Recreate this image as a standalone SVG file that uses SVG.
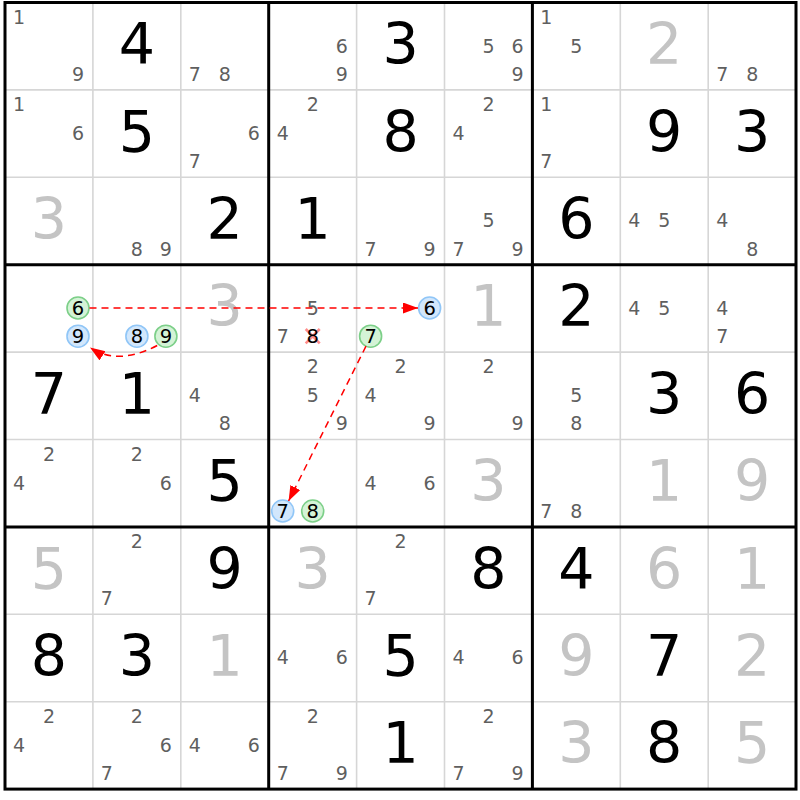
<svg xmlns="http://www.w3.org/2000/svg" width="800" height="800" viewBox="0 0 800 800">
<style>
text{font-family:"DejaVu Sans","Liberation Sans",sans-serif;text-anchor:middle}
.b{font-size:57px;fill:#000}
.s{font-size:57px;fill:#c4c4c4}
.c{font-size:19px;fill:#5f5f5f}
.k{font-size:19.5px;fill:#000}
.thin{stroke:#d6d6d6;stroke-width:1.6}
.thick{stroke:#000;stroke-width:3}
.cb{fill:#d2e7fc;stroke:#90c6f7;stroke-width:1.6}
.cg{fill:#d4f3d6;stroke:#7ccf88;stroke-width:1.6}
.x{stroke:#ff8080;stroke-width:2.6;opacity:0.9}
.arr{fill:none;stroke:#f00;stroke-width:1.5;stroke-dasharray:7 5}
</style>
<defs>
<marker id="ah" markerUnits="userSpaceOnUse" markerWidth="16" markerHeight="12" refX="15" refY="5.5" orient="auto">
<path d="M0,0 L15,5.5 L0,11 Z" fill="#f00"/>
</marker>
</defs>
<rect width="800" height="800" fill="#fff"/>
<g id="grid">
<path class="thin" d="M92.9,2.5V789.1M180.8,2.5V789.1M356.6,2.5V789.1M444.5,2.5V789.1M620.3,2.5V789.1M708.2,2.5V789.1M5,89.9H796M5,177.3H796M5,352.1H796M5,439.5H796M5,614.3H796M5,701.7H796"/>
<path class="thick" d="M268.7,2.5V789.1M532.4,2.5V789.1M5,264.7H796M5,526.9H796"/>
<rect class="thick" x="5" y="2.5" width="791" height="786.6" fill="none"/>
</g>
<g id="r0c0"><text class="c" x="19" y="23.8">1</text><text class="c" x="78" y="80.8">9</text></g>
<g id="r0c1"><text class="b" x="136.85" y="64.2">4</text></g>
<g id="r0c2"><text class="c" x="194.8" y="80.8">7</text><text class="c" x="224.8" y="80.8">8</text></g>
<g id="r0c3"><text class="c" x="341.7" y="52.6">6</text><text class="c" x="341.7" y="80.8">9</text></g>
<g id="r0c4"><text class="b" x="400.55" y="64.2">3</text></g>
<g id="r0c5"><text class="c" x="488.5" y="52.6">5</text><text class="c" x="517.5" y="52.6">6</text><text class="c" x="517.5" y="80.8">9</text></g>
<g id="r0c6"><text class="c" x="546.4" y="23.8">1</text><text class="c" x="576.4" y="52.6">5</text></g>
<g id="r0c7"><text class="s" x="664.25" y="64.2">2</text></g>
<g id="r0c8"><text class="c" x="722.2" y="80.8">7</text><text class="c" x="752.2" y="80.8">8</text></g>

<g id="r1c0"><text class="c" x="19" y="111.2">1</text><text class="c" x="78" y="140">6</text></g>
<g id="r1c1"><text class="b" x="136.85" y="151.6">5</text></g>
<g id="r1c2"><text class="c" x="253.8" y="140">6</text><text class="c" x="194.8" y="168.2">7</text></g>
<g id="r1c3"><text class="c" x="312.7" y="111.2">2</text><text class="c" x="282.7" y="140">4</text></g>
<g id="r1c4"><text class="b" x="400.55" y="151.6">8</text></g>
<g id="r1c5"><text class="c" x="488.5" y="111.2">2</text><text class="c" x="458.5" y="140">4</text></g>
<g id="r1c6"><text class="c" x="546.4" y="111.2">1</text><text class="c" x="546.4" y="168.2">7</text></g>
<g id="r1c7"><text class="b" x="664.25" y="151.6">9</text></g>
<g id="r1c8"><text class="b" x="752.15" y="151.6">3</text></g>

<g id="r2c0"><text class="s" x="48.95" y="239">3</text></g>
<g id="r2c1"><text class="c" x="136.9" y="255.6">8</text><text class="c" x="165.9" y="255.6">9</text></g>
<g id="r2c2"><text class="b" x="224.75" y="239">2</text></g>
<g id="r2c3"><text class="b" x="312.65" y="239">1</text></g>
<g id="r2c4"><text class="c" x="370.6" y="255.6">7</text><text class="c" x="429.6" y="255.6">9</text></g>
<g id="r2c5"><text class="c" x="488.5" y="227.4">5</text><text class="c" x="458.5" y="255.6">7</text><text class="c" x="517.5" y="255.6">9</text></g>
<g id="r2c6"><text class="b" x="576.35" y="239">6</text></g>
<g id="r2c7"><text class="c" x="634.3" y="227.4">4</text><text class="c" x="664.3" y="227.4">5</text></g>
<g id="r2c8"><text class="c" x="722.2" y="227.4">4</text><text class="c" x="752.2" y="255.6">8</text></g>

<g id="r3c0"><circle class="cg" cx="78" cy="308" r="11"/><text class="k" x="78" y="315">6</text><circle class="cb" cx="78" cy="336.2" r="11"/><text class="k" x="78" y="343.2">9</text></g>
<g id="r3c1"><circle class="cb" cx="136.9" cy="336.2" r="11"/><text class="k" x="136.9" y="343.2">8</text><circle class="cg" cx="165.9" cy="336.2" r="11"/><text class="k" x="165.9" y="343.2">9</text></g>
<g id="r3c2"><text class="s" x="224.75" y="326.4">3</text></g>
<g id="r3c3"><text class="c" x="312.7" y="314.8">5</text><text class="c" x="282.7" y="343">7</text><path class="x" d="M305.7,329L319.7,343.4M319.7,329L305.7,343.4"/><text class="k" x="312.7" y="343.2">8</text></g>
<g id="r3c4"><circle class="cb" cx="429.6" cy="308" r="11"/><text class="k" x="429.6" y="315">6</text><circle class="cg" cx="370.6" cy="336.2" r="11"/><text class="k" x="370.6" y="343.2">7</text></g>
<g id="r3c5"><text class="s" x="488.45" y="326.4">1</text></g>
<g id="r3c6"><text class="b" x="576.35" y="326.4">2</text></g>
<g id="r3c7"><text class="c" x="634.3" y="314.8">4</text><text class="c" x="664.3" y="314.8">5</text></g>
<g id="r3c8"><text class="c" x="722.2" y="314.8">4</text><text class="c" x="722.2" y="343">7</text></g>

<g id="r4c0"><text class="b" x="48.95" y="413.8">7</text></g>
<g id="r4c1"><text class="b" x="136.85" y="413.8">1</text></g>
<g id="r4c2"><text class="c" x="194.8" y="402.2">4</text><text class="c" x="224.8" y="430.4">8</text></g>
<g id="r4c3"><text class="c" x="312.7" y="373.4">2</text><text class="c" x="312.7" y="402.2">5</text><text class="c" x="341.7" y="430.4">9</text></g>
<g id="r4c4"><text class="c" x="400.6" y="373.4">2</text><text class="c" x="370.6" y="402.2">4</text><text class="c" x="429.6" y="430.4">9</text></g>
<g id="r4c5"><text class="c" x="488.5" y="373.4">2</text><text class="c" x="517.5" y="430.4">9</text></g>
<g id="r4c6"><text class="c" x="576.4" y="402.2">5</text><text class="c" x="576.4" y="430.4">8</text></g>
<g id="r4c7"><text class="b" x="664.25" y="413.8">3</text></g>
<g id="r4c8"><text class="b" x="752.15" y="413.8">6</text></g>

<g id="r5c0"><text class="c" x="49" y="460.8">2</text><text class="c" x="19" y="489.6">4</text></g>
<g id="r5c1"><text class="c" x="136.9" y="460.8">2</text><text class="c" x="165.9" y="489.6">6</text></g>
<g id="r5c2"><text class="b" x="224.75" y="501.2">5</text></g>
<g id="r5c3"><circle class="cb" cx="282.7" cy="511" r="11"/><text class="k" x="282.7" y="518">7</text><circle class="cg" cx="312.7" cy="511" r="11"/><text class="k" x="312.7" y="518">8</text></g>
<g id="r5c4"><text class="c" x="370.6" y="489.6">4</text><text class="c" x="429.6" y="489.6">6</text></g>
<g id="r5c5"><text class="s" x="488.45" y="501.2">3</text></g>
<g id="r5c6"><text class="c" x="546.4" y="517.8">7</text><text class="c" x="576.4" y="517.8">8</text></g>
<g id="r5c7"><text class="s" x="664.25" y="501.2">1</text></g>
<g id="r5c8"><text class="s" x="752.15" y="501.2">9</text></g>

<g id="r6c0"><text class="s" x="48.95" y="588.6">5</text></g>
<g id="r6c1"><text class="c" x="136.9" y="548.2">2</text><text class="c" x="106.9" y="605.2">7</text></g>
<g id="r6c2"><text class="b" x="224.75" y="588.6">9</text></g>
<g id="r6c3"><text class="s" x="312.65" y="588.6">3</text></g>
<g id="r6c4"><text class="c" x="400.6" y="548.2">2</text><text class="c" x="370.6" y="605.2">7</text></g>
<g id="r6c5"><text class="b" x="488.45" y="588.6">8</text></g>
<g id="r6c6"><text class="b" x="576.35" y="588.6">4</text></g>
<g id="r6c7"><text class="s" x="664.25" y="588.6">6</text></g>
<g id="r6c8"><text class="s" x="752.15" y="588.6">1</text></g>

<g id="r7c0"><text class="b" x="48.95" y="676">8</text></g>
<g id="r7c1"><text class="b" x="136.85" y="676">3</text></g>
<g id="r7c2"><text class="s" x="224.75" y="676">1</text></g>
<g id="r7c3"><text class="c" x="282.7" y="664.4">4</text><text class="c" x="341.7" y="664.4">6</text></g>
<g id="r7c4"><text class="b" x="400.55" y="676">5</text></g>
<g id="r7c5"><text class="c" x="458.5" y="664.4">4</text><text class="c" x="517.5" y="664.4">6</text></g>
<g id="r7c6"><text class="s" x="576.35" y="676">9</text></g>
<g id="r7c7"><text class="b" x="664.25" y="676">7</text></g>
<g id="r7c8"><text class="s" x="752.15" y="676">2</text></g>

<g id="r8c0"><text class="c" x="49" y="723">2</text><text class="c" x="19" y="751.8">4</text></g>
<g id="r8c1"><text class="c" x="136.9" y="723">2</text><text class="c" x="165.9" y="751.8">6</text><text class="c" x="106.9" y="780">7</text></g>
<g id="r8c2"><text class="c" x="194.8" y="751.8">4</text><text class="c" x="253.8" y="751.8">6</text></g>
<g id="r8c3"><text class="c" x="312.7" y="723">2</text><text class="c" x="282.7" y="780">7</text><text class="c" x="341.7" y="780">9</text></g>
<g id="r8c4"><text class="b" x="400.55" y="763.4">1</text></g>
<g id="r8c5"><text class="c" x="488.5" y="723">2</text><text class="c" x="458.5" y="780">7</text><text class="c" x="517.5" y="780">9</text></g>
<g id="r8c6"><text class="s" x="576.35" y="763.4">3</text></g>
<g id="r8c7"><text class="b" x="664.25" y="763.4">8</text></g>
<g id="r8c8"><text class="s" x="752.15" y="763.4">5</text></g>

<g id="connectors">
<path class="arr" d="M89.5,308H418" marker-end="url(#ah)"/>
<path class="arr" d="M157.2,345.5Q118,366 90,347.5" marker-end="url(#ah)"/>
<path class="arr" d="M366,346.2L288.6,501" marker-end="url(#ah)"/>
</g>
</svg>
